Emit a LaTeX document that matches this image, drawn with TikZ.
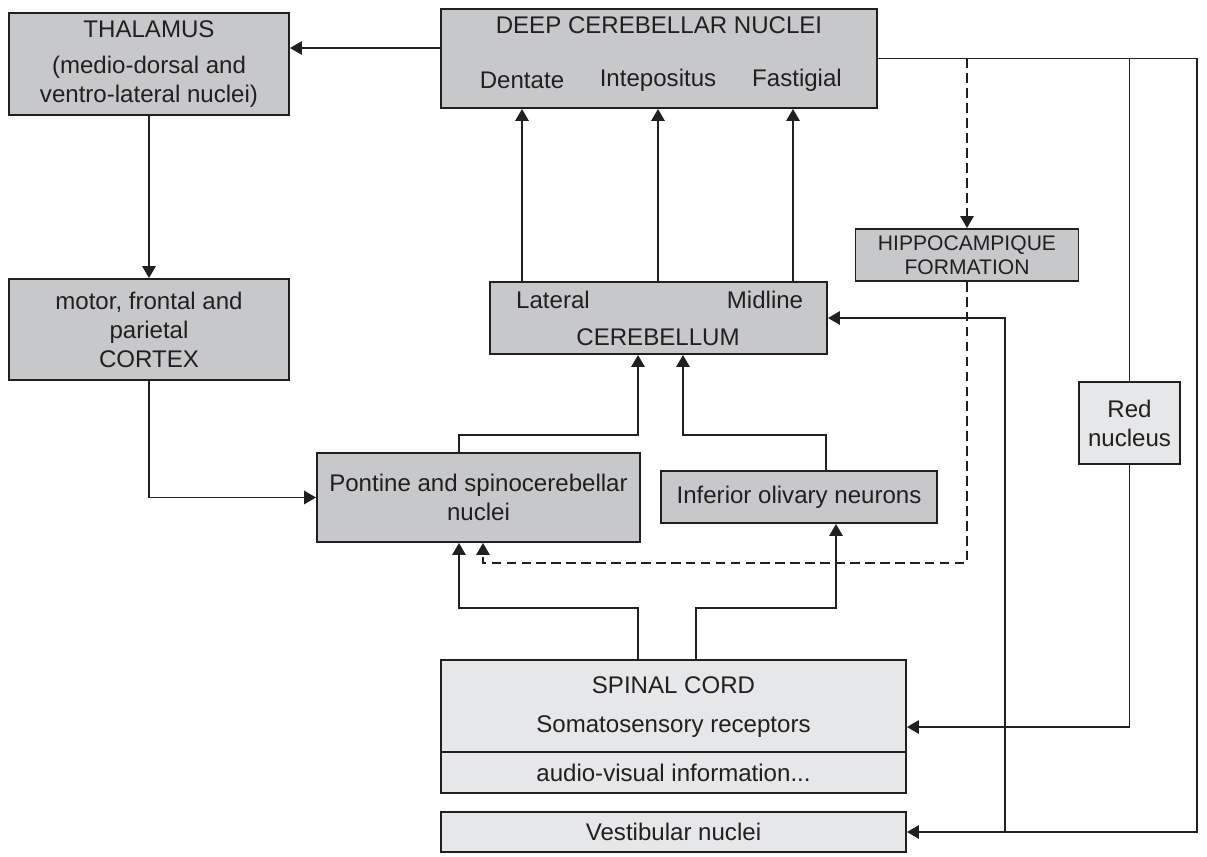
\documentclass[tikz,border=0pt]{standalone}
\usepackage{fontspec}
\setmainfont{Liberation Sans}
\usetikzlibrary{arrows.meta}
\definecolor{boxdark}{HTML}{C7C8CA}
\definecolor{boxlight}{HTML}{E6E7E8}
\definecolor{ink}{HTML}{231F20}

\begin{document}
\begin{tikzpicture}[x=0.02cm, y=-0.02cm,
	box/.style={draw=ink, line width=1.1pt, fill=boxdark, inner sep=0pt, align=center, text=ink, font=\fontsize{13.7}{16.5}\selectfont},
	lightbox/.style={box, fill=boxlight},
	txt/.style={inner sep=0pt, text=ink, font=\fontsize{13.7}{16.5}\selectfont},
	arr/.style={draw=ink, line width=1pt, -{Triangle[length=6.8pt,width=7.6pt]}},
	link/.style={draw=ink, line width=1pt},
	dasharr/.style={arr, dash pattern=on 5.5pt off 3pt}]
	\useasboundingbox (0,0) rectangle (1207,856);
	% boxes
	\node[box, minimum width=5.6cm, minimum height=2.04cm] (thal) at (149,64) {THALAMUS\\[4pt](medio-dorsal and\\ventro-lateral nuclei)};
	\node[box, minimum width=8.72cm, minimum height=1.98cm] (dcn) at (659,58.5) {};
	\node[box, minimum width=5.6cm, minimum height=2.02cm] (cort) at (149,329.5) {motor, frontal and\\parietal\\CORTEX};
	\node[box, minimum width=4.46cm, minimum height=1.04cm, font=\fontsize{12}{13.7}\selectfont] (hip) at (967,255) {HIPPOCAMPIQUE\\FORMATION};
	\node[box, minimum width=6.74cm, minimum height=1.44cm] (cer) at (658.5,318) {};
	\node[box, minimum width=6.46cm, minimum height=1.78cm] (pont) at (478.5,497.5) {Pontine and spinocerebellar\\nuclei};
	\node[box, minimum width=5.52cm, minimum height=1.04cm] (oliv) at (799,497) {Inferior olivary neurons};
	\node[lightbox, minimum width=2.02cm, minimum height=1.64cm] (red) at (1129.5,423) {Red\\nucleus};
	\node[lightbox, minimum width=9.3cm, minimum height=1.84cm] (spinA) at (673.5,706) {};
	\node[lightbox, minimum width=9.3cm, minimum height=0.82cm] (spinB) at (673.5,772.5) {audio-visual information...};
	\node[lightbox, minimum width=9.3cm, minimum height=0.8cm] (vest) at (673.5,832) {Vestibular nuclei};
	% texts inside the boxes
	\node[txt] (dcnT) at (659,25) {DEEP CEREBELLAR NUCLEI};
	\node[txt] (dent) at (522,80) {Dentate};
	\node[txt] (intp) at (658,80) {Intepositus};
	\node[txt] (fast) at (797,80) {Fastigial};
	\node[txt] (lat) at (553,300) {Lateral};
	\node[txt] (mid) at (765,300) {Midline};
	\node[txt] (cerT) at (658,337) {CEREBELLUM};
	\node[txt] (spc) at (673.5,685) {SPINAL CORD};
	\node[txt] (soma) at (673.5,727) {Somatosensory receptors};
	% thalamo-cortical loop
	\draw[arr] ([yshift=0.21cm]dcn.west) -- ([yshift=0.21cm]dcn.west -| thal.east);
	\draw[arr] (thal.south) -- (cort.north);
	\draw[arr] (cort.south) |- (pont.west);
	% cerebellum to deep nuclei
	\draw[arr] (cer.north -| dent) -- (dcn.south -| dent);
	\draw[arr] (cer.north -| intp) -- (dcn.south -| intp);
	\draw[arr] (cer.north -| 793,0) -- (dcn.south -| 793,0);
	% inputs to cerebellum
	\draw[arr] (pont.north -| 459,0) -- (459,435) -| (cer.south -| 638,0);
	\draw[arr] (oliv.north -| 826,0) -- (826,435) -| (cer.south -| 683,0);
	\draw[arr] (spinA.north -| 638,0) -- (638,608) -| (pont.south -| 459,0);
	\draw[arr] (spinA.north -| 696,0) -- (696,608) -| (oliv.south -| 836,0);
	\draw[arr] (vest.east -| 1005,0) |- (cer.east);
	% outputs of deep nuclei
	\draw[arr] (dcn.east) -| (1197,832) -- (vest.east);
	\draw[link] (dcn.east -| red.north) -- (red.north);
	\draw[arr] (red.south) |- (soma -| spinA.east);
	\draw[dasharr] (dcn.east -| hip.north) -- (hip.north);
	\draw[dasharr] (hip.south) |- (483,563) -- (pont.south -| 483,0);
\end{tikzpicture}
\end{document}
